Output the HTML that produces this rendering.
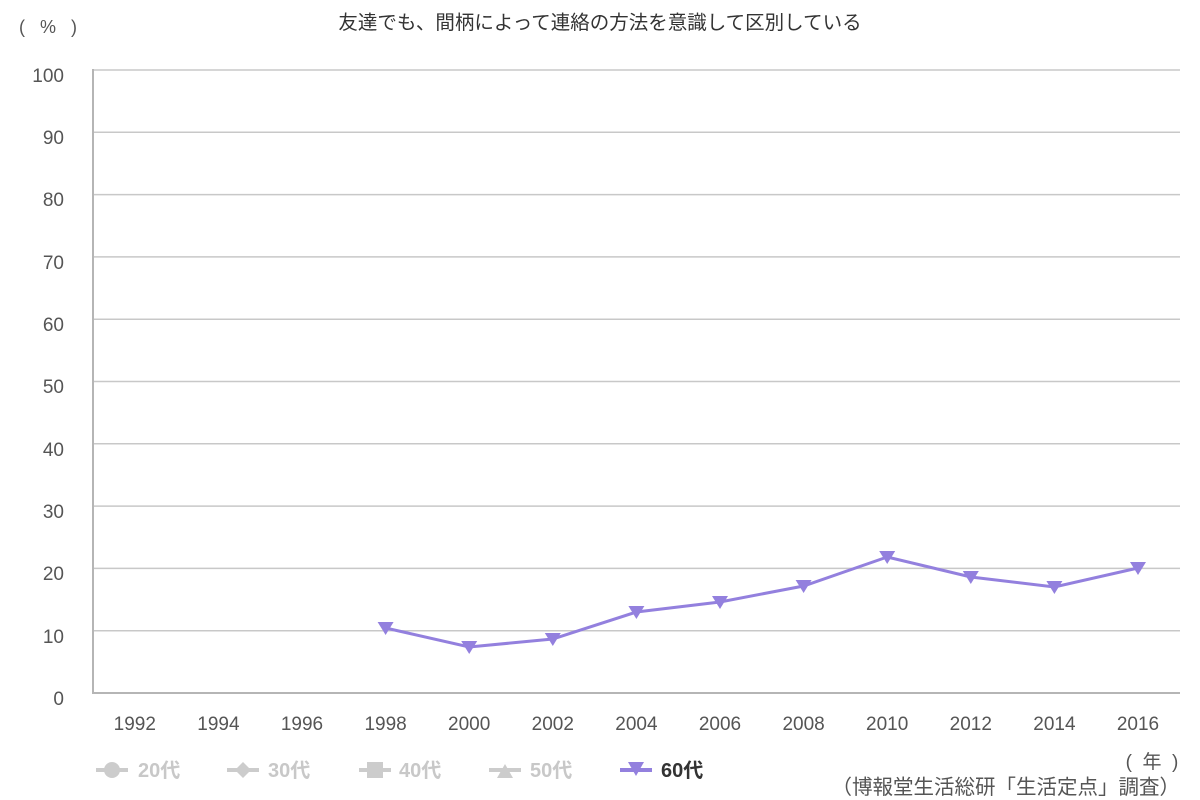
<!DOCTYPE html>
<html><head><meta charset="utf-8"><style>
html,body{margin:0;padding:0;background:#fff;}
svg{display:block;font-family:"Liberation Sans","Noto Sans CJK JP",sans-serif;}
</style></head><body>
<svg width="1200" height="800" viewBox="0 0 1200 800" xmlns="http://www.w3.org/2000/svg">
<text x="48" y="33" font-size="18" fill="#555" text-anchor="middle" xml:space="preserve">(   %   )</text>
<text x="600" y="29" font-size="19.5" fill="#333" text-anchor="middle">友達でも、間柄によって連絡の方法を意識して区別している</text>
<g stroke="#c8c8c8" stroke-width="1.5">
<line x1="93" y1="70" x2="1180" y2="70"/><line x1="93" y1="132.3" x2="1180" y2="132.3"/>
<line x1="93" y1="194.6" x2="1180" y2="194.6"/><line x1="93" y1="256.9" x2="1180" y2="256.9"/>
<line x1="93" y1="319.2" x2="1180" y2="319.2"/><line x1="93" y1="381.5" x2="1180" y2="381.5"/>
<line x1="93" y1="443.8" x2="1180" y2="443.8"/><line x1="93" y1="506.1" x2="1180" y2="506.1"/>
<line x1="93" y1="568.4" x2="1180" y2="568.4"/><line x1="93" y1="630.7" x2="1180" y2="630.7"/>
</g>
<line x1="93" y1="69" x2="93" y2="693" stroke="#b5b5b5" stroke-width="2"/>
<line x1="92" y1="693" x2="1180" y2="693" stroke="#b5b5b5" stroke-width="2"/>
<g font-size="19" fill="#555" text-anchor="end">
<text x="64" y="82">100</text><text x="64" y="144">90</text><text x="64" y="206">80</text>
<text x="64" y="269">70</text><text x="64" y="331">60</text><text x="64" y="393">50</text>
<text x="64" y="456">40</text><text x="64" y="518">30</text><text x="64" y="580">20</text>
<text x="64" y="643">10</text><text x="64" y="705">0</text>
</g>
<g font-size="19" fill="#555" text-anchor="middle">
<text x="134.8" y="730">1992</text><text x="218.4" y="730">1994</text><text x="302" y="730">1996</text>
<text x="385.6" y="730">1998</text><text x="469.2" y="730">2000</text><text x="552.8" y="730">2002</text>
<text x="636.4" y="730">2004</text><text x="720" y="730">2006</text><text x="803.6" y="730">2008</text>
<text x="887.2" y="730">2010</text><text x="970.8" y="730">2012</text><text x="1054.4" y="730">2014</text>
<text x="1138" y="730">2016</text>
</g>
<polyline fill="none" stroke="#9380de" stroke-width="3" points="385.6,628 469.2,647 552.8,639 636.4,612 720,602 803.6,586 887.2,557 970.8,577 1054.4,587 1138,568"/>
<g fill="#9380de">
<path d="M377.6,622 h16 l-8,13z"/><path d="M461.2,641 h16 l-8,13z"/><path d="M544.8,633 h16 l-8,13z"/>
<path d="M628.4,606 h16 l-8,13z"/><path d="M712,596 h16 l-8,13z"/><path d="M795.6,580 h16 l-8,13z"/>
<path d="M879.2,551 h16 l-8,13z"/><path d="M962.8,571 h16 l-8,13z"/><path d="M1046.4,581 h16 l-8,13z"/>
<path d="M1130,562 h16 l-8,13z"/>
</g>
<g font-size="20" font-weight="bold">
<line x1="96" y1="770" x2="128" y2="770" stroke="#ccc" stroke-width="4"/><circle cx="112" cy="770" r="8" fill="#ccc"/>
<text x="138" y="777" fill="#c8c8c8">20代</text>
<line x1="227" y1="770" x2="259" y2="770" stroke="#ccc" stroke-width="4"/><path d="M243,762 l8,8 -8,8 -8,-8z" fill="#ccc"/>
<text x="268" y="777" fill="#c8c8c8">30代</text>
<line x1="359" y1="770" x2="391" y2="770" stroke="#ccc" stroke-width="4"/><rect x="367" y="762" width="16" height="16" fill="#ccc"/>
<text x="399" y="777" fill="#c8c8c8">40代</text>
<line x1="489" y1="770" x2="521" y2="770" stroke="#ccc" stroke-width="4"/><path d="M497,778 h16 l-8,-14z" fill="#ccc"/>
<text x="530" y="777" fill="#c8c8c8">50代</text>
<line x1="620" y1="770" x2="652" y2="770" stroke="#9380de" stroke-width="4"/><path d="M628,762 h16 l-8,14z" fill="#9380de"/>
<text x="661" y="777" fill="#333">60代</text>
</g>
<text x="1152" y="768" font-size="19" fill="#555" text-anchor="middle" xml:space="preserve">(  年  )</text>
<text x="1180" y="794" font-size="20.5" fill="#555" text-anchor="end">（博報堂生活総研「生活定点」調査）</text>
</svg>
</body></html>
